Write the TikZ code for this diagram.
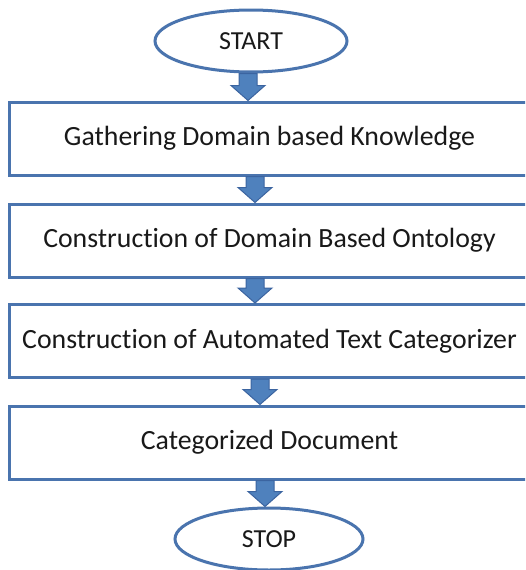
\documentclass[tikz,border=0pt]{standalone}
\usepackage{fontspec}
\setmainfont[Ligatures=NoCommon]{Carlito}
\usetikzlibrary{shapes.geometric,calc}
\definecolor{bordc}{RGB}{74,116,174}
\definecolor{arrfill}{RGB}{79,129,189}
\definecolor{arrline}{RGB}{59,100,160}
\definecolor{txtc}{RGB}{25,25,25}
\tikzset{
  stepbox/.style={draw=bordc, line width=3pt, fill=white, rectangle, minimum width=521pt, minimum height=73pt, inner sep=0pt, font=\fontsize{27.8}{32}\selectfont, text=txtc},
  termin/.style={draw=bordc, line width=3pt, fill=white, ellipse, inner sep=0pt, font=\fontsize{26}{30}\selectfont, text=txtc},
  blockarr/.style={fill=arrfill, draw=arrline, line width=1pt, line join=miter}
}
% block arrow: #1 x-position (pt), #2 source node, #3 target node
\newcommand\barrow[3]{%
  \path[blockarr] let \p1=(#2.south), \p2=(#3.north) in
    (#1pt-9pt,\y1) -- (#1pt+9pt,\y1) -- (#1pt+9pt,\y2+15pt) -- (#1pt+17pt,\y2+15pt)
    -- (#1pt,\y2) -- (#1pt-17pt,\y2+15pt) -- (#1pt-9pt,\y2+15pt) -- cycle;}
\begin{document}
\begin{tikzpicture}[x=1pt,y=-1pt]
\useasboundingbox (0,0) rectangle (525,570);
\clip (0,0) rectangle (525,570);
\node[termin, minimum width=192pt, minimum height=62pt] (start) at (251,41) {START};
\node[stepbox] (b1) at (269.5,138.5) {Gathering Domain based Knowledge};
\node[stepbox] (b2) at (269.5,240.5) {Construction of Domain Based Ontology};
\node[stepbox] (b3) at (269.5,341) {Construction of Automated Text Categorizer};
\node[stepbox] (b4) at (269.5,442.5) {Categorized Document};
\node[termin, minimum width=188pt, minimum height=62pt] (stop) at (269,539) {STOP};
\barrow{248}{start}{b1}
\barrow{255}{b1}{b2}
\barrow{255}{b2}{b3}
\barrow{260}{b3}{b4}
\barrow{265}{b4}{stop}
\end{tikzpicture}
\end{document}
